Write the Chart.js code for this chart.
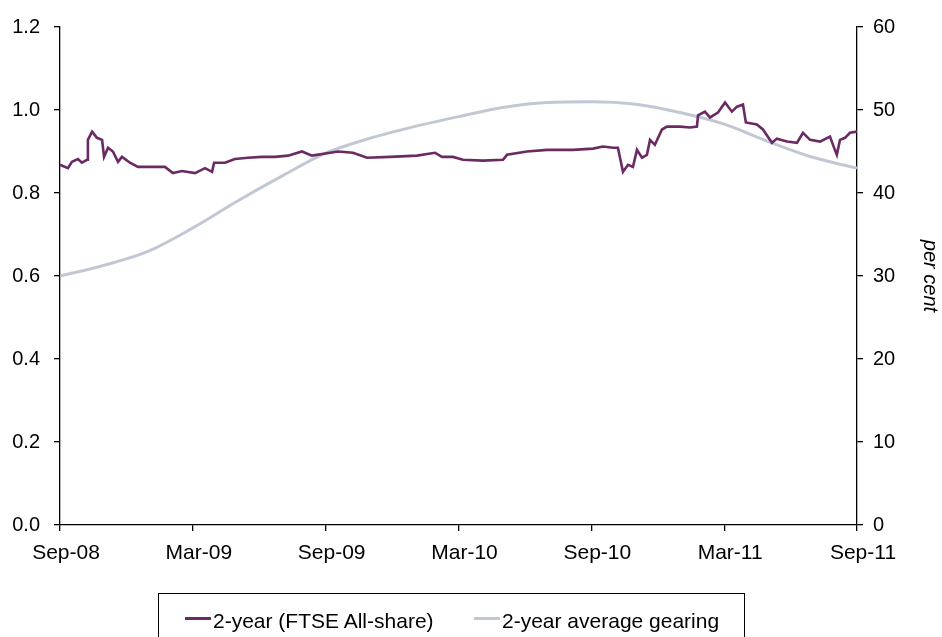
<!DOCTYPE html>
<html>
<head>
<meta charset="utf-8">
<script src="https://cdn.jsdelivr.net/npm/chart.js@4.4.1/dist/chart.umd.min.js"></script>
<style>
  body { margin: 0; background: #fff; }
  #wrap { position: relative; width: 942px; height: 637px; }
  #legend {
    position: absolute; left: 158px; top: 593px; width: 587px; height: 60px;
    border: 1px solid #000; box-sizing: border-box;
    font-family: "Liberation Sans", Arial, sans-serif; font-size: 21px; line-height: 24px; color: #000;
  }
  .item { position: absolute; top: 15px; white-space: nowrap; }
  .sw { position: absolute; top: 23px; width: 26px; height: 3px; }
</style>
</head>
<body>
<div id="wrap">
  <canvas id="gearChart" width="942" height="637"></canvas>
  <div id="legend">
    <div class="sw" style="left:26px; background:#6a2a63"></div>
    <span class="item" style="left:54px">2-year (FTSE All-share)</span>
    <div class="sw" style="left:315px; background:#c1c8d4"></div>
    <span class="item" style="left:343px">2-year average gearing</span>
  </div>
</div>
<script>
// x values are months since Sep-08
var xTickLabels = ['Sep-08', 'Mar-09', 'Sep-09', 'Mar-10', 'Sep-10', 'Mar-11', 'Sep-11'];

var ftseMonths = [0.00, 0.36, 0.54, 0.81, 0.99, 1.22, 1.26, 1.45, 1.67, 1.90, 1.99, 2.17, 2.39, 2.62, 2.80,
  3.16, 3.52, 4.29, 4.74, 5.10, 5.51, 6.10, 6.55, 6.87, 6.96, 7.45, 7.90, 8.49, 9.12, 9.71, 10.30,
  10.93, 11.38, 12.56, 13.23, 13.87, 14.91, 16.12, 16.94, 17.25, 17.75, 18.20, 19.11, 20.01, 20.19,
  21.09, 22.00, 23.17, 24.07, 24.53, 24.98, 25.20, 25.43, 25.66, 25.88, 26.06, 26.29, 26.51, 26.65,
  26.87, 27.19, 27.42, 28.00, 28.46, 28.77, 28.82, 29.13, 29.36, 29.72, 30.04, 30.35, 30.58, 30.85,
  30.98, 31.48, 31.75, 32.16, 32.38, 32.84, 33.29, 33.56, 33.88, 34.33, 34.78, 35.00, 35.09, 35.23,
  35.46, 35.68, 36.00];
var ftseValues = [0.868, 0.860, 0.875, 0.882, 0.873, 0.880, 0.928, 0.948, 0.933, 0.928, 0.887, 0.909, 0.900, 0.875, 0.887,
  0.873, 0.863, 0.863, 0.863, 0.848, 0.853, 0.848, 0.860, 0.851, 0.873, 0.873, 0.882, 0.885, 0.887, 0.887, 0.890,
  0.900, 0.890, 0.900, 0.897, 0.885, 0.887, 0.890, 0.897, 0.887, 0.887, 0.880, 0.878, 0.880, 0.892,
  0.900, 0.904, 0.904, 0.907, 0.912, 0.909, 0.909, 0.851, 0.868, 0.863, 0.904, 0.885, 0.892, 0.928,
  0.916, 0.953, 0.960, 0.960, 0.958, 0.960, 0.987, 0.996, 0.982, 0.994, 1.018, 0.996, 1.008, 1.013,
  0.970, 0.965, 0.953, 0.921, 0.931, 0.924, 0.921, 0.945, 0.928, 0.924, 0.936, 0.904, 0.892, 0.928,
  0.933, 0.945, 0.948];

var gearingMonths = [0, 2, 4, 6, 8, 10, 12, 14, 16, 18, 20, 22, 24, 26, 28, 30, 32, 34, 36];
var gearingValues = [30.0, 31.3, 33.0, 35.8, 39.0, 42.0, 44.8, 46.6, 48.0, 49.2, 50.3, 50.9, 51.0, 50.7, 49.7, 48.3, 46.2, 44.3, 43.0];

function pairs(xs, ys) {
  return xs.map(function (x, i) { return { x: x, y: ys[i] }; });
}

var family = '"Liberation Sans", Arial, sans-serif';
var gridOpts = { drawOnChartArea: false, drawTicks: true, tickLength: 6, color: '#000', lineWidth: 1.3 };

new Chart(document.getElementById('gearChart').getContext('2d'), {
  type: 'line',
  data: {
    datasets: [{
      label: '2-year (FTSE All-share)',
      data: pairs(ftseMonths, ftseValues),
      borderColor: '#6a2a63',
      borderWidth: 2.6,
      pointRadius: 0,
      tension: 0,
      yAxisID: 'y'
    }, {
      label: '2-year average gearing',
      data: pairs(gearingMonths, gearingValues),
      borderColor: '#c1c8d4',
      borderWidth: 3,
      pointRadius: 0,
      cubicInterpolationMode: 'monotone',
      yAxisID: 'y1'
    }]
  },
  options: {
    responsive: false,
    animation: false,
    layout: { padding: { top: 27, bottom: 72, left: 0, right: 0 } },
    plugins: { legend: { display: false }, tooltip: { enabled: false } },
    scales: {
      x: {
        type: 'linear', min: 0, max: 36,
        ticks: {
          stepSize: 6, font: { family: family, size: 21 }, color: '#000', padding: 10, maxRotation: 0,
          labelOffset: 6,
          callback: function (v) { return xTickLabels[v / 6]; }
        },
        grid: gridOpts,
        border: { color: '#000', width: 1.3 },
        afterFit: function (s) { s.height = 40; }
      },
      y: {
        position: 'left', min: 0, max: 1.2,
        ticks: { stepSize: 0.2, font: { family: family, size: 20 }, color: '#000', padding: 14,
          callback: function (v) { return v.toFixed(1); } },
        grid: gridOpts,
        border: { color: '#000', width: 1.3 },
        afterFit: function (s) { s.width = 60; }
      },
      y1: {
        position: 'right', min: 0, max: 60,
        ticks: { stepSize: 10, font: { family: family, size: 20 }, color: '#000', padding: 10 },
        grid: gridOpts,
        border: { color: '#000', width: 1.3 },
        title: { display: true, text: 'per cent', color: '#000',
          font: { family: family, size: 20, style: 'italic' }, padding: 0 },
        afterFit: function (s) { s.width = 85; }
      }
    }
  }
});
</script>
</body>
</html>
